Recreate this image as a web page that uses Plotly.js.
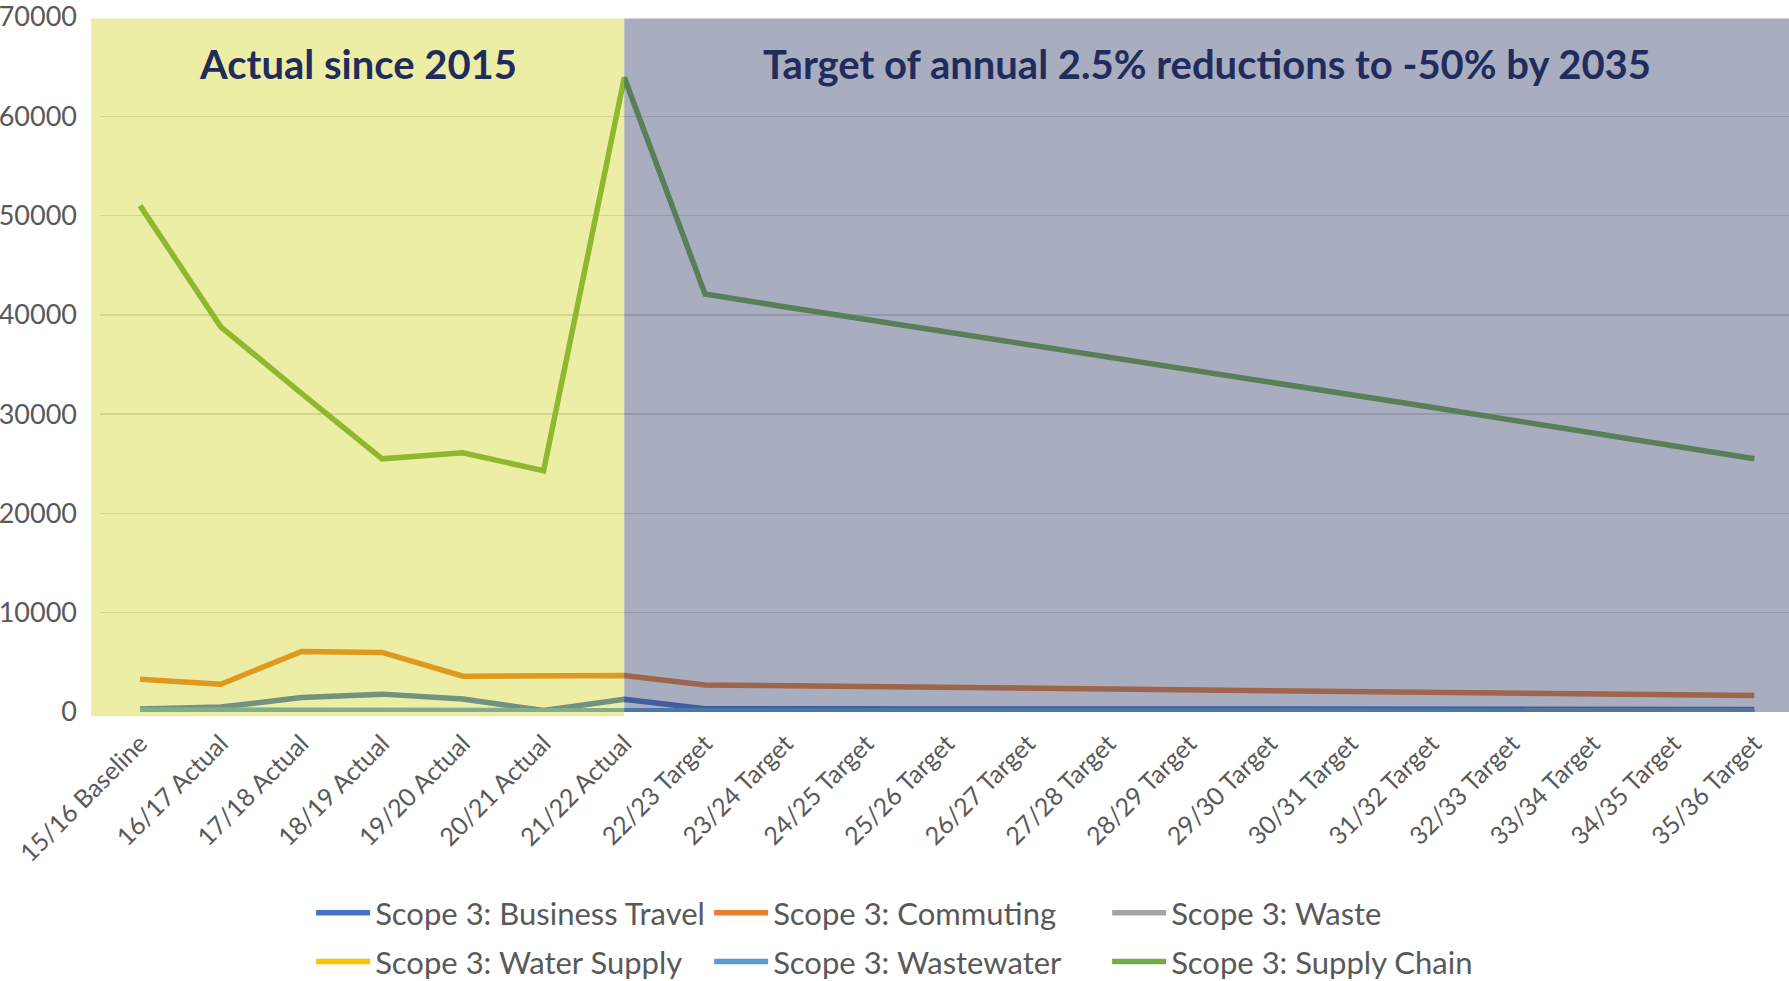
<!DOCTYPE html>
<html>
<head>
<meta charset="utf-8">
<script src="https://cdn.plot.ly/plotly-3.0.1.min.js"></script>
<style>
html,body{margin:0;padding:0;background:#fff;}
#chart{width:1789px;height:981px;}
</style>
</head>
<body>
<div id="chart"></div>
<script>
const categories = ["15/16 Baseline","16/17 Actual","17/18 Actual","18/19 Actual","19/20 Actual","20/21 Actual","21/22 Actual",
  "22/23 Target","23/24 Target","24/25 Target","25/26 Target","26/27 Target","27/28 Target","28/29 Target","29/30 Target",
  "30/31 Target","31/32 Target","32/33 Target","33/34 Target","34/35 Target","35/36 Target"];

const businessTravel = [300,500,1450,1800,1300,150,1280, 330,325,320,315,310,305,300,295,290,285,280,275,270,260];
const commuting      = [3300,2800,6100,6000,3600,3650,3680, 2730,2650,2570,2490,2400,2320,2240,2160,2070,1990,1910,1830,1740,1650];
const waste          = [150,150,150,150,150,120,120, 110,110,110,105,105,100,100,100,95,95,90,90,85,85];
const waterSupply    = [30,30,30,30,30,30,30, 30,30,30,30,30,30,30,30,30,30,30,30,30,30];
const wastewater     = [170,170,170,170,170,160,160, 110,110,110,105,105,100,100,100,100,95,95,95,90,90];
const supplyChain    = [51000,38800,32100,25500,26100,24300,63900, 42100,40800,39550,38300,37000,35750,34500,33200,31950,30700,29400,28100,26800,25500];

const seriesNames  = ["Scope 3: Business Travel","Scope 3: Commuting","Scope 3: Waste","Scope 3: Water Supply","Scope 3: Wastewater","Scope 3: Supply Chain"];
const seriesColors = ["#4472C4","#ED7D31","#A5A5A5","#FFC000","#5B9BD5","#70AD47"];
const seriesData   = [businessTravel, commuting, waste, waterSupply, wastewater, supplyChain];

const yTicks = [0,10000,20000,30000,40000,50000,60000,70000];
const regionTitles = ["Actual since 2015","Target of annual 2.5% reductions to -50% by 2035"];
const lastActualIndex = 6;

const FONT = "Lato, 'Open Sans', sans-serif";
const xRange = [-0.496, 20.43];
const boundary = (lastActualIndex - xRange[0]) / (xRange[1] - xRange[0]);

const traces = seriesData.map((vals, i) => ({
  type: "scatter",
  mode: "lines",
  x: categories,
  y: vals,
  name: seriesNames[i],
  line: {color: seriesColors[i], width: 5.5, shape: "linear"},
  legend: i < 3 ? "legend" : "legend2",
  hoverinfo: "x+y+name"
}));

const legendCommon = {
  orientation: "h",
  xanchor: "left",
  yanchor: "middle",
  x: 0.125,
  yref: "container",
  font: {family: FONT, size: 31, color: "#595959"},
  entrywidth: 329,
  entrywidthmode: "pixels",
  itemwidth: 54,
  bgcolor: "rgba(0,0,0,0)",
  traceorder: "normal",
  itemclick: false,
  itemdoubleclick: false
};

const layout = {
  width: 1789,
  height: 981,
  margin: {l: 100, r: 0, t: 17, b: 269, autoexpand: false},
  paper_bgcolor: "#ffffff",
  plot_bgcolor: "#ffffff",
  showlegend: true,
  legend: Object.assign({}, legendCommon, {y: 0.0693}),
  legend2: Object.assign({}, legendCommon, {y: 0.0194}),
  xaxis: {
    type: "category",
    range: xRange,
    tickangle: -45,
    showgrid: false,
    showline: false,
    zeroline: false,
    ticks: "",
    tickfont: {family: FONT, size: 25, color: "#595959"},
    ticklabelstandoff: 11,
    fixedrange: true
  },
  yaxis: {
    range: [0, 70000],
    tickvals: yTicks,
    ticktext: yTicks.map(String),
    showgrid: true,
    gridcolor: "#D9D9D9",
    gridwidth: 1.5,
    zeroline: false,
    showline: false,
    ticks: "",
    tickfont: {family: FONT, size: 27, color: "#595959"},
    ticklabelstandoff: 22,
    ticklabeloverflow: "allow",
    fixedrange: true
  },
  shapes: [
    {type: "rect", xref: "paper", yref: "paper", x0: -0.0053, x1: boundary, y0: -0.006, y1: 0.998,
     fillcolor: "rgba(200,206,0,0.35)", line: {width: 0}, layer: "above"},
    {type: "rect", xref: "paper", yref: "paper", x0: boundary, x1: 1.0, y0: 0, y1: 0.998,
     fillcolor: "rgba(57,69,112,0.44)", line: {width: 0}, layer: "above"}
  ],
  annotations: [
    {xref: "paper", yref: "paper", x: (-0.0053 + boundary) / 2, y: 0.932, xanchor: "center", yanchor: "middle",
     text: "<b>" + regionTitles[0] + "</b>", showarrow: false,
     font: {family: FONT, size: 40, color: "#222C5C"}},
    {xref: "paper", yref: "paper", x: (boundary + 1.0) / 2, y: 0.932, xanchor: "center", yanchor: "middle",
     text: "<b>" + regionTitles[1] + "</b>", showarrow: false,
     font: {family: FONT, size: 40, color: "#222C5C"}}
  ]
};

Plotly.newPlot("chart", traces, layout, {displayModeBar: false, staticPlot: true});
</script>
</body>
</html>
